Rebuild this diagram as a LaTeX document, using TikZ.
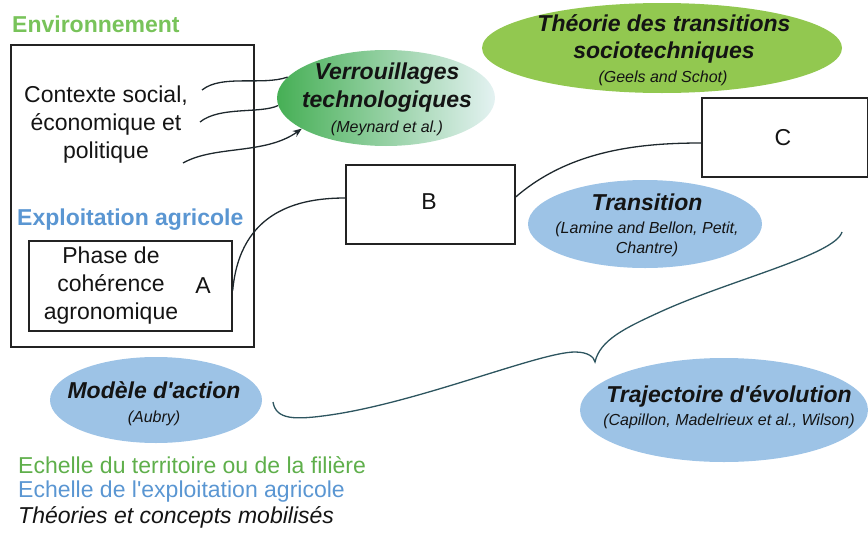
\documentclass[tikz,border=0pt]{standalone}
\usepackage{fontspec}
\setmainfont{Liberation Sans}
\usetikzlibrary{shapes.geometric,arrows.meta}
\definecolor{envgreen}{RGB}{120,195,90}
\definecolor{leggreen}{RGB}{95,175,75}
\definecolor{bluetxt}{RGB}{90,150,210}
\definecolor{bluefill}{RGB}{157,195,230}
\definecolor{theofill}{RGB}{146,200,80}
\definecolor{verrL}{RGB}{70,175,85}
\definecolor{verrR}{RGB}{228,242,242}
\definecolor{boxcol}{RGB}{35,35,35}
\definecolor{linecol}{RGB}{30,40,45}
\definecolor{bracecol}{RGB}{45,85,95}
\definecolor{txtcol}{RGB}{20,20,20}
\begin{document}
\begin{tikzpicture}[x=1pt,y=-1pt,
  txt/.style={font=\fontsize{23}{28}\selectfont, anchor=base, inner sep=0pt, text=txtcol},
  ttl/.style={font=\fontsize{23}{28}\selectfont\bfseries\itshape, anchor=base, inner sep=0pt, text=txtcol},
  cite/.style={font=\fontsize{16}{20}\selectfont\itshape, anchor=base, inner sep=0pt, text=txtcol},
  head/.style={font=\fontsize{23}{28}\selectfont\bfseries, anchor=base west, inner sep=0pt},
  legend/.style={font=\fontsize{23}{28}\selectfont, anchor=base west, inner sep=0pt},
  boxst/.style={draw=boxcol, line width=1.4pt, rectangle, inner sep=0pt},
  ell/.style={ellipse, inner sep=0pt},
  conn/.style={draw=linecol, line width=1.3pt},
  brace/.style={draw=bracecol, line width=1.3pt}]
\useasboundingbox (0,0) rectangle (868,533);

% outer box and headings
\node[boxst, minimum width=243pt, minimum height=302pt] (env) at (132.5,196) {};
\node[head, text=envgreen] (envT) at (12,32) {Environnement};
\node[head, text=bluetxt] (exploT) at (17,225) {Exploitation agricole};

% context text
\node[txt] (ctx1) at (106,102) {Contexte social,};
\node[txt] (ctx2) at (106,130) {économique et};
\node[txt] (ctx3) at (106,158) {politique};

% box A
\node[boxst, minimum width=203pt, minimum height=90pt] (A) at (130.5,286) {};
\node[txt] (phase1) at (111,263) {Phase de};
\node[txt] (phase2) at (111,291) {cohérence};
\node[txt] (phase3) at (111,319) {agronomique};
\node[txt] (Alab) at (203,293) {A};

% boxes B and C
\node[boxst, minimum width=169pt, minimum height=79pt] (B) at (430.5,204.5) {};
\node[txt] (Blab) at (429,209) {B};
\node[boxst, minimum width=166pt, minimum height=79pt] (C) at (785,137.5) {};
\node[txt] (Clab) at (783,145) {C};

% ellipses
\node[ell, left color=verrL, right color=verrR, minimum width=218pt, minimum height=96pt] (verr) at (386,98) {};
\node[ttl] (verr1) at (387,79) {Verrouillages};
\node[ttl] (verr2) at (387,107) {technologiques};
\node[cite] (verr3) at (387,132) {(Meynard et al.)};

\node[ell, fill=theofill, minimum width=360pt, minimum height=90pt] (theo) at (662,48) {};
\node[ttl] (theo1) at (664,31) {Théorie des transitions};
\node[ttl] (theo2) at (664,58) {sociotechniques};
\node[cite] (theo3) at (663,82) {(Geels and Schot)};

\node[ell, fill=bluefill, minimum width=234pt, minimum height=88pt] (trans) at (645,224) {};
\node[ttl] (trans1) at (647,210) {Transition};
\node[cite] (trans2) at (647,233) {(Lamine and Bellon, Petit,};
\node[cite] (trans3) at (647,253) {Chantre)};

\node[ell, fill=bluefill, minimum width=212pt, minimum height=86pt] (mod) at (156,400) {};
\node[ttl] (mod1) at (154,398) {Modèle d\textquotesingle action};
\node[cite] (mod2) at (154,422) {(Aubry)};

\node[ell, fill=bluefill, minimum width=288pt, minimum height=104pt] (traj) at (724,410) {};
\node[ttl] (traj1) at (729,402) {Trajectoire d\textquotesingle évolution};
\node[cite] (traj2) at (729,425) {(Capillon, Madelrieux et al., Wilson)};

% context arrows
\coordinate (c1) at (202,90);
\coordinate (c2) at (200,122);
\coordinate (c3) at (183,163);
\draw[conn] (c1) .. controls (222,74) and (262,86) .. (verr.168);
\draw[conn] (c2) .. controls (220,106) and (260,114) .. (verr.184);
\draw[conn, -{Stealth[length=9pt,width=7pt]}] (c3) .. controls (215,145) and (265,155) .. (verr.200);

% A - B - C connectors
\draw[conn] ([yshift=-4.5pt]A.east) .. controls (240,210) and (300,198) .. ([yshift=6.5pt]B.west);
\draw[conn] ([yshift=7.5pt]B.east) .. controls (570,150) and (640,143) .. ([yshift=-5.5pt]C.west);

% brace
\coordinate (brL) at (273,402);
\coordinate (brM) at (595,362);
\coordinate (brR) at (842,232);
\draw[brace] (brL) .. controls (276,420) and (295,420) .. (330,415)
  .. controls (420,402) and (540,352) .. (575,352)
  .. controls (588,352) and (594,357) .. (brM)
  .. controls (600,340) and (625,328) .. (660,312)
  .. controls (730,280) and (835,255) .. (brR);

% legend
\node[legend, text=leggreen] (leg1) at (18,473) {Echelle du territoire ou de la filière};
\node[legend, text=bluetxt] (leg2) at (18,497) {Echelle de l\textquotesingle exploitation agricole};
\node[legend, text=txtcol, font=\fontsize{23}{28}\selectfont\itshape] (leg3) at (18,523) {Théories et concepts mobilisés};
\end{tikzpicture}
\end{document}
